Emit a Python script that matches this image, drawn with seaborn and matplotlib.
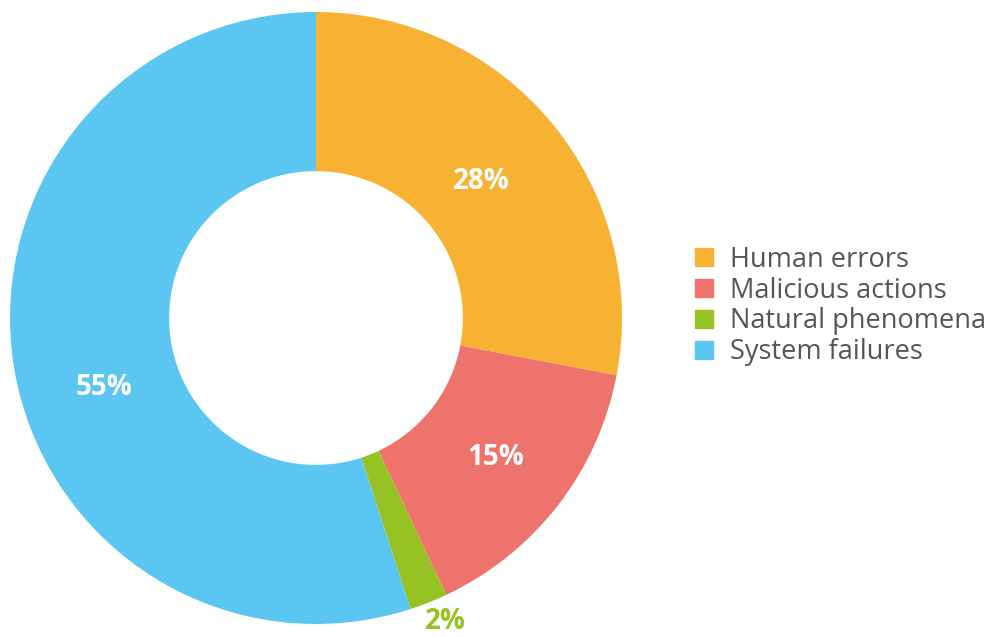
import matplotlib
matplotlib.use("Agg")
import matplotlib.pyplot as plt
import matplotlib.patches as mpatches
import seaborn as sns
import numpy as np

# data
categories = ["Human errors", "Malicious actions", "Natural phenomena", "System failures"]
shares = [28, 15, 2, 55]
colors = ["#F7B133", "#EE736C", "#97C224", "#5BC6F1"]

sns.set_theme(style="white")
plt.rcParams['font.family'] = ['Open Sans', 'DejaVu Sans']

fig = plt.figure(figsize=(9.94, 6.37), dpi=100)
ax = fig.add_axes([10 / 994, 13 / 637, 612 / 994, 612 / 637])

wedges, _ = ax.pie(shares, colors=sns.color_palette(colors), startangle=90, counterclock=False,
                   radius=1.0, wedgeprops=dict(width=0.52, linewidth=0))

# percent labels: radius and angle offset from the wedge middle
label_r = [0.70, 0.745, 1.08, 0.73]
label_shift = [0, 0, 1.5, 9]
for val, r, d, w in zip(shares, label_r, label_shift, wedges):
    mid = np.deg2rad((w.theta1 + w.theta2) / 2 + d)
    color = "white" if r < 1 else colors[2]
    ax.text(r * np.cos(mid), r * np.sin(mid), f"{val}%", ha="center", va="center",
            fontsize=20, fontweight="bold", color=color)

ax.set_xlim(-1, 1)
ax.set_ylim(-1, 1)
ax.set_aspect("equal")
ax.axis("off")

handles = [mpatches.Patch(color=c, label=l) for c, l in zip(colors, categories)]
leg = fig.legend(handles=handles, loc="center left", bbox_to_anchor=(695 / 994, 1 - 306 / 637),
                 frameon=False, fontsize=19.5, handlelength=0.65, handleheight=0.65,
                 handletextpad=0.65, labelspacing=0.1, borderpad=0, borderaxespad=0)
for t in leg.get_texts():
    t.set_color("#555555")

fig.savefig("out.png", dpi=100)
